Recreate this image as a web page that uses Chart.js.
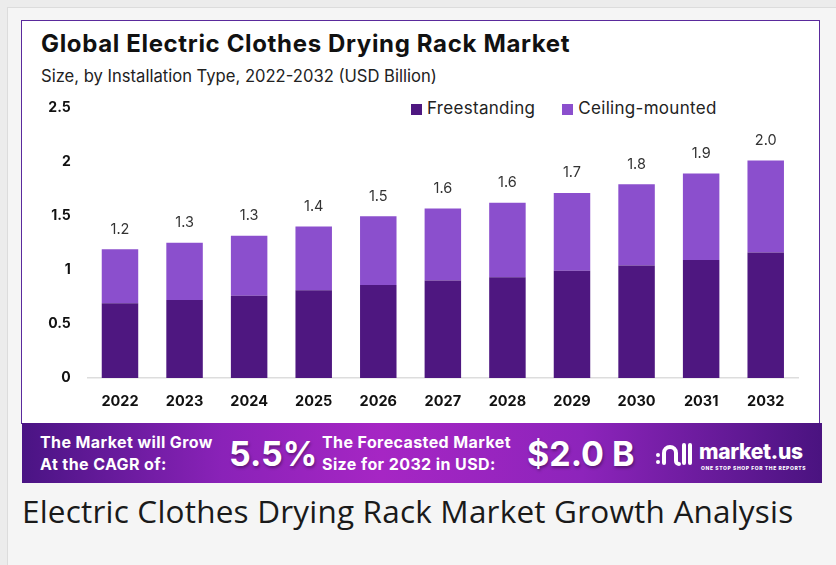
<!DOCTYPE html>
<html>
<head>
<meta charset="utf-8">
<script src="https://cdn.jsdelivr.net/npm/chart.js@4"></script>
<style>
  html, body { margin: 0; padding: 0; }
  body { width: 836px; height: 565px; background: #ececec; position: relative; overflow: hidden; font-family: "Inter", sans-serif; }
  .outer { position: absolute; left: 7px; top: 7px; width: 829px; height: 570px; background: #f5f5f5; border-left: 1px solid #dcdcdc; border-top: 1px solid #dcdcdc; }
  .card { position: absolute; left: 21px; top: 20px; width: 797px; height: 402px; background: #fff; border: 1px solid #5a2a9c; }
  .title { position: absolute; left: 19px; top: 8px; font-size: 24px; font-weight: 700; color: #111; letter-spacing: 0.65px; }
  .subtitle { position: absolute; left: 19px; top: 45px; font-size: 16.6px; color: #222; }
  .legend { position: absolute; left: 389px; top: 77px; font-size: 17px; letter-spacing: 0.3px; color: #222; display: flex; gap: 27px; }
  .legend span.sw { display: inline-block; width: 11px; height: 11px; margin-right: 5px; vertical-align: -1px; }
  #wrap { position: absolute; left: 0; top: 61px; width: 797px; height: 338px; }
  .banner { position: absolute; left: 22px; top: 423px; width: 800px; height: 60px;
    background: linear-gradient(90deg, #4a1484 0%, #8a22b8 25%, #a626c4 45%, #8d24bb 70%, #4a1380 100%); color: #fff; }
  .b-small { position: absolute; font-size: 16px; font-weight: 700; line-height: 22px; letter-spacing: 0.4px; }
  .b-big { position: absolute; font-size: 34px; font-weight: 700; top: 10px; text-shadow: 1px 2px 3px rgba(0,0,0,0.35); }
  .logo { position: absolute; left: 633px; top: 12px; font-weight: 800; }
  .logo .name { font-size: 21px; position: absolute; left: 44px; top: 4px; letter-spacing: -0.3px; }
  .logo .tag { font-size: 5px; position: absolute; left: 46px; top: 30px; white-space: nowrap; letter-spacing: 0.6px; }
  .logo svg { position: absolute; left: 0; top: 6px; }
  .caption { position: absolute; left: 22px; top: 489px; font-family: "Open Sans", sans-serif; font-size: 31.5px; letter-spacing: 0.2px; color: #1a1a1a; }
</style>
</head>
<body>
<div class="outer"></div>
<div class="card">
  <div class="title">Global Electric Clothes Drying Rack Market</div>
  <div class="subtitle">Size, by Installation Type, 2022-2032 (USD Billion)</div>
  <div class="legend" id="legend"></div>
  <div id="wrap"><canvas id="chart"></canvas></div>
</div>
<div class="banner">
  <div class="b-small" style="left:18px; top:8px;">The Market will Grow<br>At the CAGR of:</div>
  <div class="b-big" style="left:207px;">5.5%</div>
  <div class="b-small" style="left:300px; top:8px;">The Forecasted Market<br>Size for 2032 in USD:</div>
  <div class="b-big" style="left:505px;">$2.0 B</div>
  <div class="logo">
    <svg width="38" height="26" viewBox="0 0 38 26">
      <g fill="none" stroke="#fff" stroke-width="4" stroke-linecap="round">
        <path d="M9 22 V12 a6 6 0 0 1 12 0 V20 a3 3 0 0 0 3 3"/>
        <path d="M29 4 V22"/>
        <path d="M35 4 V22"/>
      </g>
      <circle cx="3" cy="14" r="2" fill="#fff"/>
      <circle cx="3" cy="21" r="2" fill="#fff"/>
    </svg>
    <span class="name">market.us</span><span class="tag">ONE STOP SHOP FOR THE REPORTS</span>
  </div>
</div>
<div class="caption">Electric Clothes Drying Rack Market Growth Analysis</div>

<script>
// Chart data
const years = ["2022", "2023", "2024", "2025", "2026", "2027", "2028", "2029", "2030", "2031", "2032"];
const freestanding = [0.69, 0.72, 0.76, 0.81, 0.86, 0.90, 0.93, 0.99, 1.04, 1.09, 1.16];
const ceilingMounted = [0.50, 0.53, 0.555, 0.59, 0.635, 0.665, 0.69, 0.72, 0.75, 0.80, 0.85];
const totalLabels = ["1.2", "1.3", "1.3", "1.4", "1.5", "1.6", "1.6", "1.7", "1.8", "1.9", "2.0"];
const yTicks = [0, 0.5, 1, 1.5, 2, 2.5];

const seriesNames = ["Freestanding", "Ceiling-mounted"];
const seriesColors = ["#4e1780", "#8b4fcd"];

// HTML legend built from the series
const legendEl = document.getElementById("legend");
seriesNames.forEach((name, i) => {
  const item = document.createElement("div");
  item.innerHTML = '<span class="sw" style="background:' + seriesColors[i] + '"></span>' + name;
  legendEl.appendChild(item);
});

// Total labels above each stack
const totalLabelPlugin = {
  id: "totalLabels",
  afterDatasetsDraw(chart) {
    const ctx = chart.ctx;
    const meta = chart.getDatasetMeta(1);
    ctx.save();
    ctx.font = "14.5px Inter, sans-serif";
    ctx.fillStyle = "#333";
    ctx.textAlign = "center";
    ctx.textBaseline = "middle";
    meta.data.forEach((bar, i) => {
      ctx.fillText(totalLabels[i], bar.x, bar.y - 20);
    });
    ctx.restore();
  },
};

const ctx = document.getElementById("chart");
new Chart(ctx, {
  type: "bar",
  data: {
    labels: years,
    datasets: [
      {
        label: seriesNames[0],
        data: freestanding,
        backgroundColor: seriesColors[0],
        categoryPercentage: 1,
        barPercentage: 0.565,
      },
      {
        label: seriesNames[1],
        data: ceilingMounted,
        backgroundColor: seriesColors[1],
        categoryPercentage: 1,
        barPercentage: 0.565,
      },
    ],
  },
  options: {
    responsive: true,
    maintainAspectRatio: false,
    animation: false,
    layout: {
      padding: { top: 7, right: 21, bottom: 7, left: 0 },
    },
    plugins: {
      legend: { display: false },
      tooltip: { enabled: false },
    },
    scales: {
      x: {
        stacked: true,
        grid: { display: false, drawTicks: false },
        border: { display: true, color: "#dddddd", width: 1.5 },
        ticks: {
          color: "#111",
          padding: 15,
          font: { family: "Inter", size: 14.5, weight: "bold" },
        },
        afterFit(scale) {
          scale.height = 35;
        },
      },
      y: {
        stacked: true,
        min: 0,
        max: 2.5,
        afterBuildTicks(scale) {
          scale.ticks = yTicks.map((v) => ({ value: v }));
        },
        grid: { display: false, drawTicks: false },
        border: { display: false },
        ticks: {
          color: "#111",
          padding: 17,
          font: { family: "Inter", size: 14, weight: "bold" },
          callback: (v) => String(v),
        },
        afterFit(scale) {
          scale.width = 65.7;
        },
      },
    },
  },
  plugins: [totalLabelPlugin],
});
</script>
</body>
</html>
